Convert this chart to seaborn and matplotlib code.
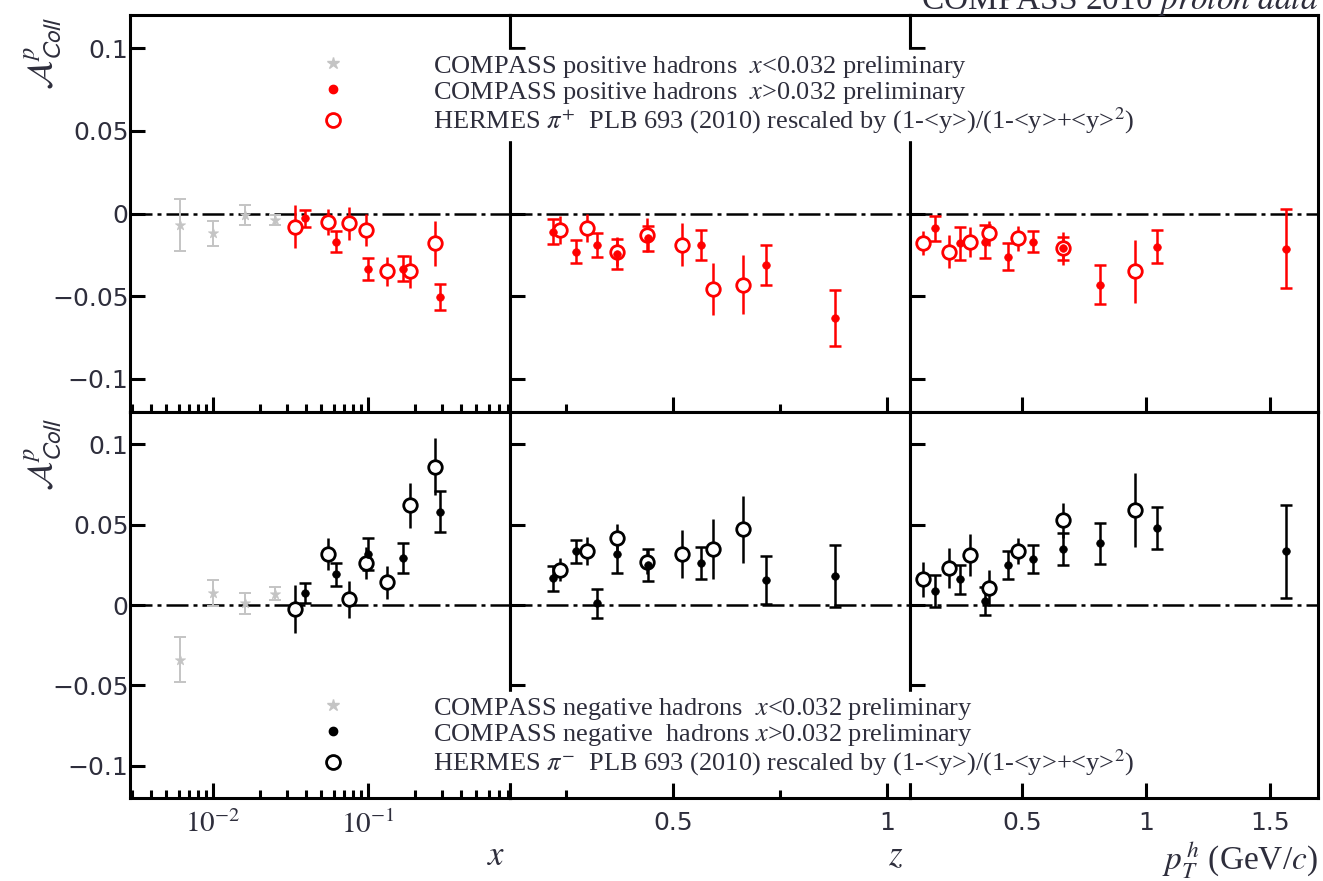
import matplotlib.pyplot as plt
import seaborn as sns
from matplotlib.lines import Line2D
from matplotlib.ticker import NullFormatter

# ---- values ----
# bin centres
x_low = [0.0061, 0.010, 0.016, 0.025]            # COMPASS x < 0.032
x_high = [0.039, 0.062, 0.100, 0.167, 0.290]     # COMPASS x > 0.032
x_hermes = [0.034, 0.055, 0.075, 0.097, 0.133, 0.188, 0.272]
z_compass = [0.220, 0.273, 0.322, 0.368, 0.442, 0.565, 0.717, 0.878]
z_hermes = [0.236, 0.300, 0.370, 0.440, 0.521, 0.593, 0.664]
pt_compass = [0.149, 0.250, 0.350, 0.444, 0.544, 0.665, 0.815, 1.044, 1.565]
pt_hermes = [0.101, 0.206, 0.290, 0.367, 0.484, 0.665, 0.956]

# positive hadrons
pos_x_low = [-0.007, -0.012, -0.001, -0.004]
pos_x_low_err = [0.0155, 0.0076, 0.006, 0.003]
pos_x_high = [-0.003, -0.017, -0.0335, -0.0335, -0.0506]
pos_x_high_err = [0.005, 0.0064, 0.0065, 0.0076, 0.008]
pos_x_hermes = [-0.008, -0.005, -0.006, -0.010, -0.035, -0.035, -0.018]
pos_x_hermes_err = [0.013, 0.008, 0.0098, 0.0095, 0.009, 0.010, 0.0137]
pos_z = [-0.011, -0.023, -0.019, -0.0245, -0.015, -0.019, -0.031, -0.063]
pos_z_err = [0.0076, 0.0067, 0.0073, 0.009, 0.0076, 0.009, 0.012, 0.017]
pos_z_hermes = [-0.010, -0.009, -0.023, -0.013, -0.019, -0.0457, -0.043]
pos_z_hermes_err = [0.0085, 0.0085, 0.009, 0.010, 0.013, 0.0155, 0.018]
pos_pt = [-0.009, -0.018, -0.017, -0.026, -0.017, -0.021, -0.043, -0.020, -0.0213]
pos_pt_err = [0.0076, 0.010, 0.010, 0.008, 0.0064, 0.007, 0.0116, 0.010, 0.024]
pos_pt_hermes = [-0.018, -0.023, -0.017, -0.012, -0.015, -0.021, -0.035]
pos_pt_hermes_err = [0.0073, 0.010, 0.009, 0.0076, 0.0076, 0.010, 0.019]

# negative hadrons
neg_x_low = [-0.034, 0.0074, 0.001, 0.007]
neg_x_low_err = [0.014, 0.008, 0.0065, 0.004]
neg_x_high = [0.0074, 0.019, 0.0315, 0.029, 0.058]
neg_x_high_err = [0.006, 0.007, 0.010, 0.0093, 0.0127]
neg_x_hermes = [-0.0025, 0.0316, 0.0037, 0.026, 0.014, 0.062, 0.086]
neg_x_hermes_err = [0.015, 0.010, 0.0115, 0.010, 0.010, 0.014, 0.0176]
neg_z = [0.0167, 0.0334, 0.0012, 0.032, 0.025, 0.026, 0.0155, 0.018]
neg_z_err = [0.0077, 0.007, 0.009, 0.012, 0.010, 0.010, 0.015, 0.0195]
neg_z_hermes = [0.022, 0.0334, 0.0415, 0.027, 0.0315, 0.0347, 0.047]
neg_z_hermes_err = [0.007, 0.0087, 0.009, 0.008, 0.015, 0.0186, 0.021]
neg_pt = [0.0087, 0.016, 0.0025, 0.025, 0.0285, 0.035, 0.0384, 0.0477, 0.0334]
neg_pt_err = [0.010, 0.009, 0.009, 0.0087, 0.0087, 0.010, 0.0127, 0.013, 0.029]
neg_pt_hermes = [0.016, 0.023, 0.031, 0.0105, 0.0334, 0.0526, 0.0588]
neg_pt_hermes_err = [0.011, 0.0124, 0.013, 0.011, 0.008, 0.011, 0.023]

y_ticks = [-0.1, -0.05, 0, 0.05, 0.1]
y_tick_labels = ['\u22120.1', '\u22120.05', '0', '0.05', '0.1']

GREY = '#c4c4c4'
TXT = '#2e2e3c'

sns.set_theme(style='ticks', rc={'axes.linewidth': 2.2, 'axes.edgecolor': 'black'})
plt.rcParams['font.family'] = ['DejaVu Sans']
plt.rcParams['mathtext.fontset'] = 'stix'

W, H = 1323, 881
fig = plt.figure(figsize=(W / 100, H / 100), dpi=100)


def px_axes(x0, x1, y0, y1):
    return fig.add_axes([x0 / W, 1 - y1 / H, (x1 - x0) / W, (y1 - y0) / H])


def draw_compass(ax, x, y, err, color, marker='o', s=30, lw=1.8):
    ax.errorbar(x, y, yerr=err, fmt='none', ecolor=color, elinewidth=lw,
                capsize=4, capthick=lw, zorder=3)
    sns.scatterplot(x=x, y=y, ax=ax, marker=marker, s=s, color=color,
                    edgecolor=color, linewidth=0.5, zorder=4, legend=False)


def draw_hermes(ax, x, y, err, color):
    ax.errorbar(x, y, yerr=err, fmt='none', ecolor=color, elinewidth=1.8,
                capsize=0, zorder=3)
    sns.scatterplot(x=x, y=y, ax=ax, marker='o', s=95, color=color,
                    facecolor='white', edgecolor=color, linewidth=2.0,
                    zorder=4, legend=False)


cols = [(130, 510), (510, 910), (910, 1318)]
rows = [(15, 412), (412, 798)]

panels = [
    [(x_low, pos_x_low, pos_x_low_err), (x_high, pos_x_high, pos_x_high_err),
     (x_hermes, pos_x_hermes, pos_x_hermes_err)],
    [None, (z_compass, pos_z, pos_z_err), (z_hermes, pos_z_hermes, pos_z_hermes_err)],
    [None, (pt_compass, pos_pt, pos_pt_err), (pt_hermes, pos_pt_hermes, pos_pt_hermes_err)],
    [(x_low, neg_x_low, neg_x_low_err), (x_high, neg_x_high, neg_x_high_err),
     (x_hermes, neg_x_hermes, neg_x_hermes_err)],
    [None, (z_compass, neg_z, neg_z_err), (z_hermes, neg_z_hermes, neg_z_hermes_err)],
    [None, (pt_compass, neg_pt, neg_pt_err), (pt_hermes, neg_pt_hermes, neg_pt_hermes_err)],
]

for r, (y0, y1) in enumerate(rows):
    color = 'red' if r == 0 else 'black'
    for c, (x0, x1) in enumerate(cols):
        ax = px_axes(x0, x1, y0, y1)
        low, comp, herm = panels[r * 3 + c]

        ax.axhline(0, color='black', lw=1.8, ls=(0, (8.8, 2.0, 1.6, 2.0)), zorder=2)
        if low is not None:
            draw_compass(ax, low[0], low[1], low[2], GREY, marker='*', s=60, lw=1.4)
        draw_hermes(ax, herm[0], herm[1], herm[2], color)
        draw_compass(ax, comp[0], comp[1], comp[2], color)

        ax.set_ylim(-0.12, 0.12)
        ax.set_yticks(y_ticks)
        if c == 0:
            ax.set_xscale('log')
            ax.set_xlim(0.00292, 0.824)
            ax.set_xticks([0.01, 0.1])
            ax.set_xticklabels([r'$10^{-2}$', r'$10^{-1}$'], fontsize=21)
            ax.xaxis.set_minor_formatter(NullFormatter())
            ax.set_yticklabels(y_tick_labels)
        elif c == 1:
            ax.set_xlim(0.119, 1.054)
            ax.set_xticks([0.5, 1.0])
            ax.set_xticklabels(['0.5', '1'])
            ax.set_xticks([0.25, 0.75], minor=True)
            ax.set_yticklabels([])
        else:
            ax.set_xlim(0.048, 1.693)
            ax.set_xticks([0.5, 1.0, 1.5])
            ax.set_xticklabels(['0.5', '1', '1.5'])
            ax.set_yticklabels([])
        if r == 0:
            ax.set_xticklabels([])

        ax.tick_params(axis='both', which='both', direction='in', width=2.2,
                       top=False, right=False, colors='black')
        ax.tick_params(axis='both', which='major', length=11)
        ax.tick_params(axis='x', which='minor', length=6)
        ax.tick_params(axis='y', which='major', pad=1, labelsize=18)
        ax.tick_params(axis='x', which='major', pad=9)
        if c != 0:
            ax.tick_params(axis='x', which='major', labelsize=18)
        for t in ax.get_xticklabels() + ax.get_yticklabels():
            t.set_color(TXT)
        ax.set_xlabel('')
        ax.set_ylabel('')
        for sp in ax.spines.values():
            sp.set_linewidth(2.2)
            sp.set_color('black')

# y-axis labels
for yc in (53, 454):
    fig.text(43 / W, 1 - yc / H, r'$\mathcal{A}^{p}_{\mathsf{Coll}}$', rotation=90,
             ha='center', va='center', fontsize=25, color=TXT)

# x-axis labels
fig.text(505 / W, 1 - 855 / H, r'$x$', ha='right', va='center', fontsize=25, color=TXT)
fig.text(903 / W, 1 - 855 / H, r'$z$', ha='right', va='center', fontsize=25, color=TXT)
fig.text(1318 / W, 1 - 860 / H, r'$p^{\,h}_{T}$ (GeV/$c$)', ha='right', va='center',
         fontsize=24, color=TXT, family='Liberation Serif')

# title, clipped at the top edge as in the original
fig.text(1318 / W, 1 - 9 / H, r'COMPASS 2010 $\mathit{proton\ data}$', ha='right',
         va='baseline', fontsize=24, color=TXT, family='Liberation Serif')

# legends
rescale = r'rescaled by (1-<y>)/(1-<y>+<y>$^{2}$)'
legend_specs = [
    (95, 'red', [r'COMPASS positive hadrons  $x$<0.032 preliminary',
                 r'COMPASS positive hadrons  $x$>0.032 preliminary',
                 r'HERMES $\pi^{+}$  PLB 693 (2010) ' + rescale]),
    (737, 'black', [r'COMPASS negative hadrons  $x$<0.032 preliminary',
                    r'COMPASS negative  hadrons $x$>0.032 preliminary',
                    r'HERMES $\pi^{-}$  PLB 693 (2010) ' + rescale]),
]
fs_leg = 19
fs_px = fs_leg * 100 / 72
for yc, color, labels in legend_specs:
    handles = [
        Line2D([], [], ls='none', marker='*', ms=9, color=GREY),
        Line2D([], [], ls='none', marker='o', ms=6, color=color),
        Line2D([], [], ls='none', marker='o', ms=10, mfc='white', mec=color, mew=2),
    ]
    hl = 1.0
    bp = 0.15
    left = 333 - bp * fs_px - hl * fs_px / 2
    htp = (433 - 333 - hl * fs_px / 2) / fs_px
    leg = fig.legend(handles, labels, loc='center left',
                     bbox_to_anchor=(left / W, 1 - yc / H),
                     prop={'family': 'Liberation Serif', 'size': fs_leg},
                     frameon=True, facecolor='white', edgecolor='white', framealpha=1,
                     fancybox=False, borderpad=bp, handlelength=hl,
                     handletextpad=htp, labelspacing=0.0, borderaxespad=0)
    for t in leg.get_texts():
        t.set_color(TXT)

fig.savefig('out.png', dpi=100)
